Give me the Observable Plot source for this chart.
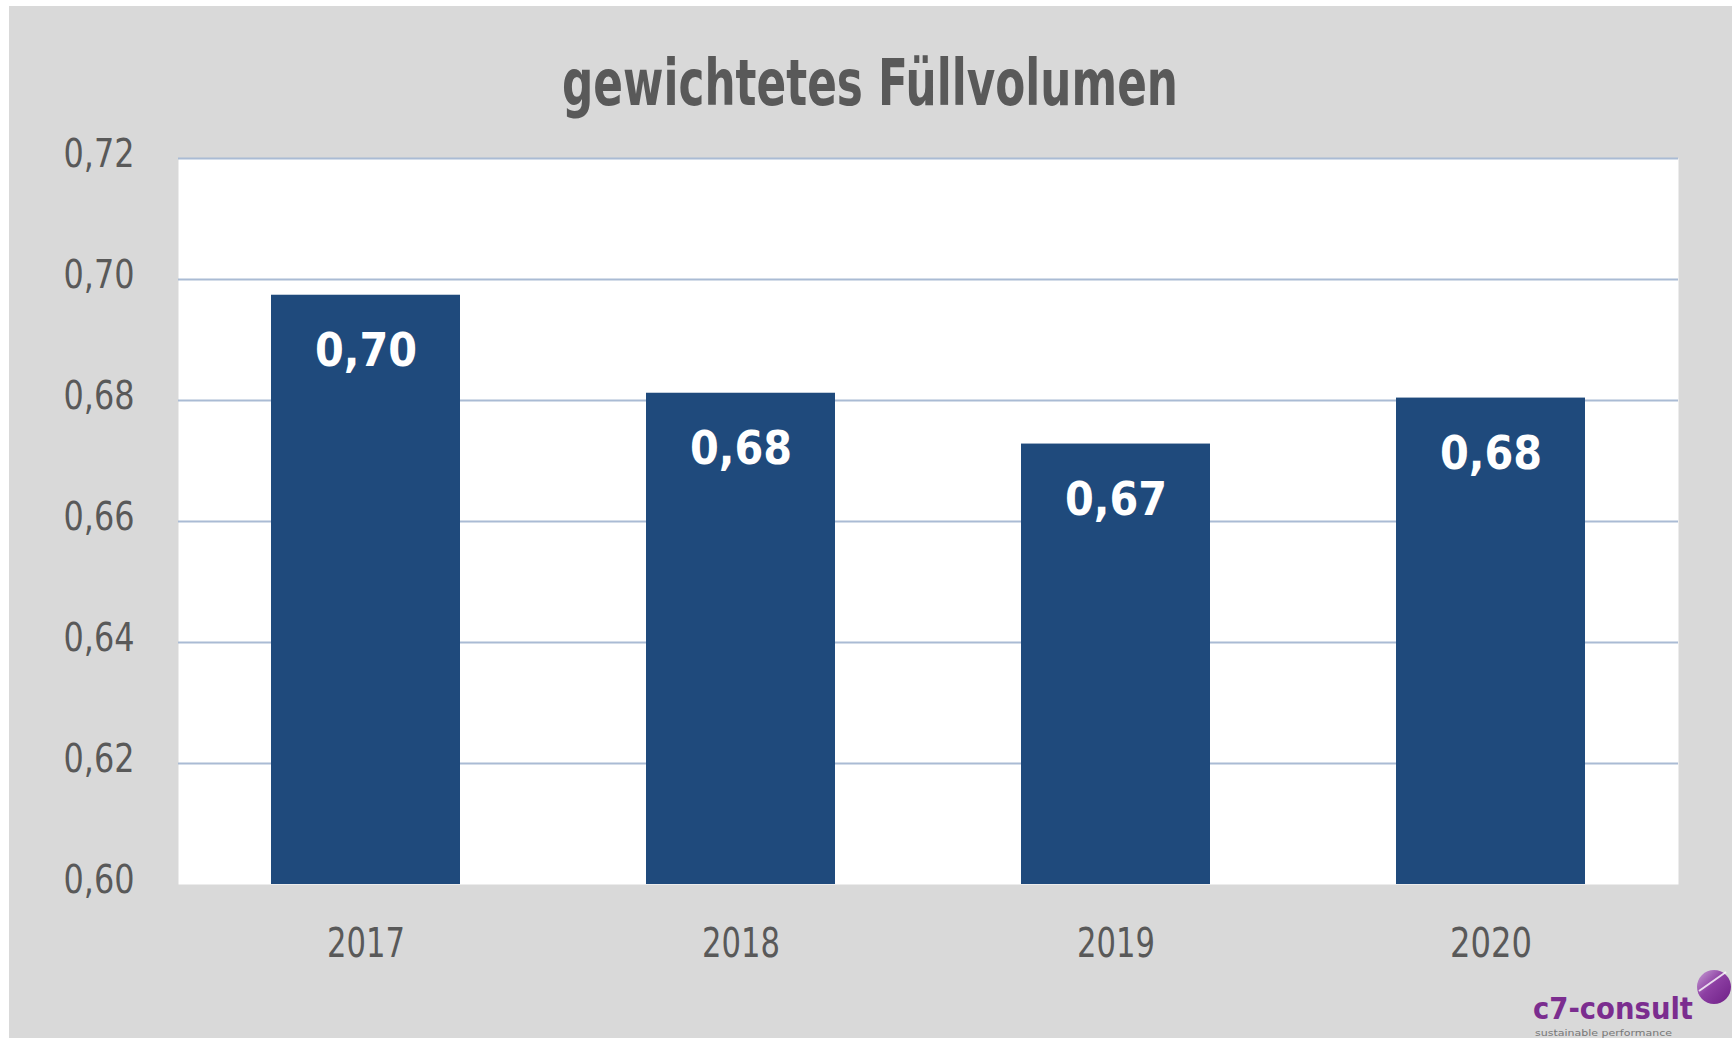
<!DOCTYPE html>
<html>
<head>
<meta charset="utf-8">
<script src="https://cdn.jsdelivr.net/npm/d3@7"></script>
<script src="https://cdn.jsdelivr.net/npm/@observablehq/plot@0.6"></script>
<style>
  html, body { margin: 0; padding: 0; background: #ffffff; }
  #panel { position: absolute; left: 9px; top: 6px; width: 1723px; height: 1032px; background: #d9d9d9; overflow: hidden; }
  #chart { position: absolute; left: 0; top: 120px; }
  #overlay { position: absolute; left: 0; top: 0; }
</style>
</head>
<body>
<div id="panel">
  <div id="chart"></div>
  <svg id="overlay" width="1723" height="1032" style="pointer-events:none">
    <defs>
      <linearGradient id="lg" x1="0" y1="0" x2="1" y2="1">
        <stop offset="0" stop-color="#c9a3d6"/>
        <stop offset="0.45" stop-color="#8d3fa3"/>
        <stop offset="1" stop-color="#6e1f86"/>
      </linearGradient>
    </defs>
    <text x="861" y="99" text-anchor="middle"
          font-family="'DejaVu Sans Condensed', 'DejaVu Sans', sans-serif" font-weight="bold"
          font-size="64" fill="#595959" textLength="616" lengthAdjust="spacingAndGlyphs">gewichtetes Füllvolumen</text>
    <circle cx="1705" cy="981" r="17" fill="url(#lg)"/>
    <path d="M1690 985 L1717 966" stroke="#ffffff" stroke-width="2" opacity="0.8"/>
    <text x="1524" y="1013" font-family="'DejaVu Sans Condensed', 'DejaVu Sans', sans-serif" font-weight="bold"
          font-size="30" fill="#7b2d8f" textLength="160" lengthAdjust="spacingAndGlyphs">c7-consult</text>
    <text x="1526" y="1030" font-family="'DejaVu Sans', sans-serif" font-size="9" fill="#777777"
          textLength="137" lengthAdjust="spacingAndGlyphs">sustainable performance</text>
  </svg>
</div>
<script>
const years = ["2017", "2018", "2019", "2020"];
const values = [0.6974, 0.6812, 0.6728, 0.6804];
const yTicks = [0.60, 0.62, 0.64, 0.66, 0.68, 0.70, 0.72];
const gridTicks = [0.62, 0.64, 0.66, 0.68, 0.70, 0.72];

const data = years.map((year, i) => ({year, value: values[i]}));
const fmt = v => v.toFixed(2).replace(".", ",");
const cond = "'DejaVu Sans Condensed', 'DejaVu Sans', sans-serif";

const chart = Plot.plot({
  width: 1723,
  height: 912,
  marginLeft: 169,
  marginRight: 54,
  marginTop: 32,
  marginBottom: 154,
  style: {
    background: "transparent",
    fontFamily: cond,
    fontSize: "40px",
    color: "#595959",
    overflow: "visible"
  },
  x: {domain: years, paddingInner: 0.496, paddingOuter: 0.248, label: null},
  y: {domain: [0.60, 0.72], label: null},
  marks: [
    Plot.frame({fill: "white", stroke: null}),
    Plot.ruleY(gridTicks, {stroke: "#aabbd4", strokeWidth: 2}),
    Plot.barY(data, {x: "year", y: "value", fill: "#1f4a7c", clip: true}),
    Plot.text(data, {x: "year", y: "value", text: d => fmt(d.value), dy: 56,
                     fill: "white", fontSize: 46, fontWeight: "bold", ariaLabel: "bar-label"}),
    Plot.axisY({ticks: yTicks, tickFormat: fmt, tickSize: 0, tickPadding: 44, dy: -4, fontSize: 39}),
    Plot.axisX({tickSize: 0, tickPadding: 43, fontSize: 41})
  ]
});

// condense glyphs to the narrow face of the original (text remains real text)
const svg = d3.select(chart);
svg.selectAll('g[aria-label="y-axis tick label"] text')
  .attr("textLength", 71).attr("lengthAdjust", "spacingAndGlyphs");
svg.selectAll('g[aria-label="x-axis tick label"] text')
  .each(function() {
    const t = this.textContent;
    const ones = (t.match(/1/g) || []).length;
    d3.select(this).attr("textLength", 82 - 4 * ones).attr("lengthAdjust", "spacingAndGlyphs");
  });
svg.selectAll('g[aria-label="bar-label"] text')
  .attr("textLength", 87).attr("lengthAdjust", "spacingAndGlyphs");

document.getElementById("chart").appendChild(chart);
</script>
</body>
</html>
